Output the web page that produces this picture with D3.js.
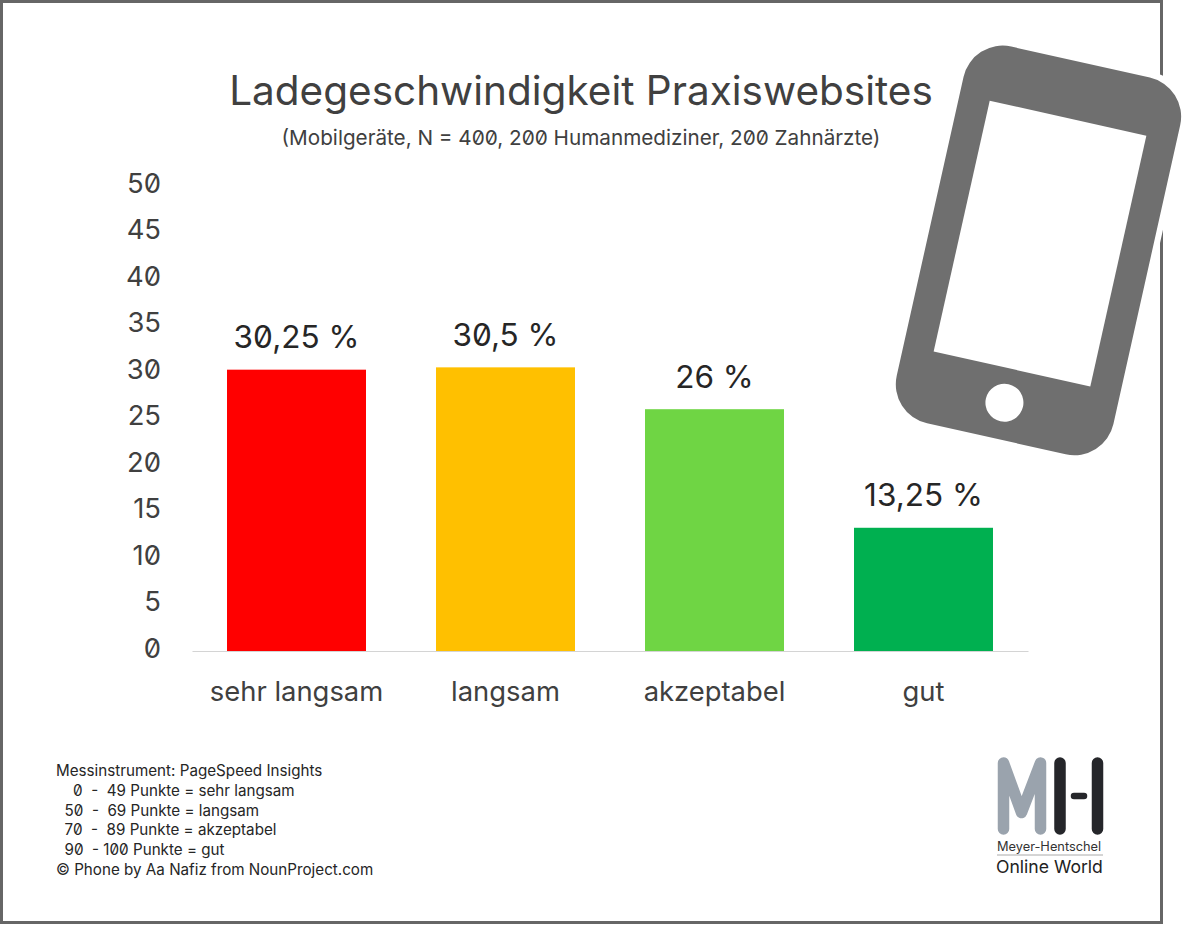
<!DOCTYPE html>
<html lang="de">
<head>
<meta charset="utf-8">
<title>Ladegeschwindigkeit Praxiswebsites</title>
<script src="https://cdn.jsdelivr.net/npm/d3@7"></script>
<style>
  html, body { margin: 0; padding: 0; background: #fff; }
  svg { display: block; }
  text { font-family: Inter, "Noto Sans", sans-serif; font-feature-settings: "zero" 1; font-variant-numeric: slashed-zero; white-space: pre; }
  .axis .domain { stroke: #d4d4d4; stroke-width: 1.2; }
  .axis text { fill: #404040; font-size: 27.4px; }
</style>
</head>
<body>
<svg id="chart" width="1200" height="925"></svg>
<script>
const categories = ["sehr langsam", "langsam", "akzeptabel", "gut"];
const values = [30.25, 30.5, 26, 13.25];
const valueLabels = ["30,25 %", "30,5 %", "26 %", "13,25 %"];
const barColors = ["#ff0000", "#ffc000", "#6fd544", "#00b050"];
const yTicks = [0, 5, 10, 15, 20, 25, 30, 35, 40, 45, 50];
const noteLines = [
  "Messinstrument: PageSpeed Insights",
  "    0  -  49 Punkte = sehr langsam",
  "  50  -  69 Punkte = langsam",
  "  70  -  89 Punkte = akzeptabel",
  "  90  - 100 Punkte = gut",
  "© Phone by Aa Nafiz from NounProject.com"
];

const svg = d3.select("#chart");

const x = d3.scaleBand().domain(categories).range([192, 1028]).paddingInner(0.335).paddingOuter(0.1675);
const y = d3.scaleLinear().domain([0, 50]).range([651, 186]);

// frame around the picture
svg.append("rect")
  .attr("x", 1.5).attr("y", 1.5)
  .attr("width", 1160).attr("height", 921)
  .attr("fill", "#fff").attr("stroke", "#666").attr("stroke-width", 3);

svg.append("text")
  .attr("x", 581).attr("y", 105)
  .attr("text-anchor", "middle")
  .attr("font-size", 40.5)
  .attr("fill", "#404040")
  .text("Ladegeschwindigkeit Praxiswebsites");

svg.append("text")
  .attr("x", 581).attr("y", 145)
  .attr("text-anchor", "middle")
  .attr("font-size", 20.7)
  .attr("fill", "#404040")
  .text("(Mobilgeräte, N = 400, 200 Humanmediziner, 200 Zahnärzte)");

// y axis: no line, labels only, sitting a little above their value
const yAxis = svg.append("g")
  .attr("class", "axis")
  .attr("transform", "translate(161,0)")
  .call(d3.axisLeft(y).tickValues(yTicks).tickSize(0).tickPadding(0));
yAxis.select(".domain").remove();
yAxis.selectAll("text").attr("dy", "6px");

const xAxis = svg.append("g")
  .attr("class", "axis")
  .attr("transform", "translate(0,651)")
  .call(d3.axisBottom(x).tickSize(0).tickPadding(30.5).tickSizeOuter(0));

svg.selectAll(".bar")
  .data(values)
  .enter()
  .append("rect")
  .attr("class", "bar")
  .attr("x", (d, i) => x(categories[i]))
  .attr("y", (d) => y(d))
  .attr("width", x.bandwidth())
  .attr("height", (d) => y(0) - y(d))
  .attr("fill", (d, i) => barColors[i]);

svg.selectAll(".value")
  .data(values)
  .enter()
  .append("text")
  .attr("class", "value")
  .attr("x", (d, i) => x(categories[i]) + x.bandwidth() / 2)
  .attr("y", (d) => y(d) - 21.5)
  .attr("text-anchor", "middle")
  .attr("font-size", 31.5)
  .attr("fill", "#262626")
  .text((d, i) => valueLabels[i]);

// phone icon, drawn around the centre of its screen
const phone = svg.append("g").attr("transform", "translate(1040,243.6) rotate(12.6)");
phone.append("rect")
  .attr("x", -117).attr("y", -192)
  .attr("width", 234).attr("height", 398)
  .attr("rx", 44)
  .attr("fill", "#fff");
phone.append("rect")
  .attr("x", -111).attr("y", -186)
  .attr("width", 222).attr("height", 386)
  .attr("rx", 40)
  .attr("fill", "#6f6f6f");
phone.append("rect")
  .attr("x", -80.25).attr("y", -128.5)
  .attr("width", 160.5).attr("height", 257)
  .attr("fill", "#fff");
phone.append("circle")
  .attr("cx", 0).attr("cy", 163)
  .attr("r", 19)
  .attr("fill", "#fff");

svg.selectAll(".note")
  .data(noteLines)
  .enter()
  .append("text")
  .attr("class", "note")
  .attr("x", 56)
  .attr("y", (d, i) => 776 + i * 19.8)
  .attr("font-size", 15.2)
  .attr("fill", "#262626")
  .text((d) => d);

// logo
const logo = svg.append("g");
logo.append("path")
  .attr("d", "M1003.5,829V763L1021.5,812.5L1040.5,763V829")
  .attr("fill", "none")
  .attr("stroke", "#9aa3ad").attr("stroke-width", 11.5)
  .attr("stroke-linecap", "round").attr("stroke-linejoin", "round");
logo.append("path")
  .attr("d", "M1060,763V829M1097.5,763V829")
  .attr("fill", "none")
  .attr("stroke", "#25262a").attr("stroke-width", 11.5)
  .attr("stroke-linecap", "round");
logo.append("path")
  .attr("d", "M1074,796H1084")
  .attr("stroke", "#25262a").attr("stroke-width", 6.5)
  .attr("stroke-linecap", "round");
logo.append("line")
  .attr("x1", 997).attr("x2", 1103).attr("y1", 855).attr("y2", 855)
  .attr("stroke", "#aaa").attr("stroke-width", 1);
logo.append("text")
  .attr("x", 997).attr("y", 851)
  .attr("font-size", 12.8)
  .attr("fill", "#333")
  .text("Meyer-Hentschel");
logo.append("text")
  .attr("x", 996).attr("y", 873)
  .attr("font-size", 17.6)
  .attr("fill", "#222")
  .text("Online World");
</script>
</body>
</html>
